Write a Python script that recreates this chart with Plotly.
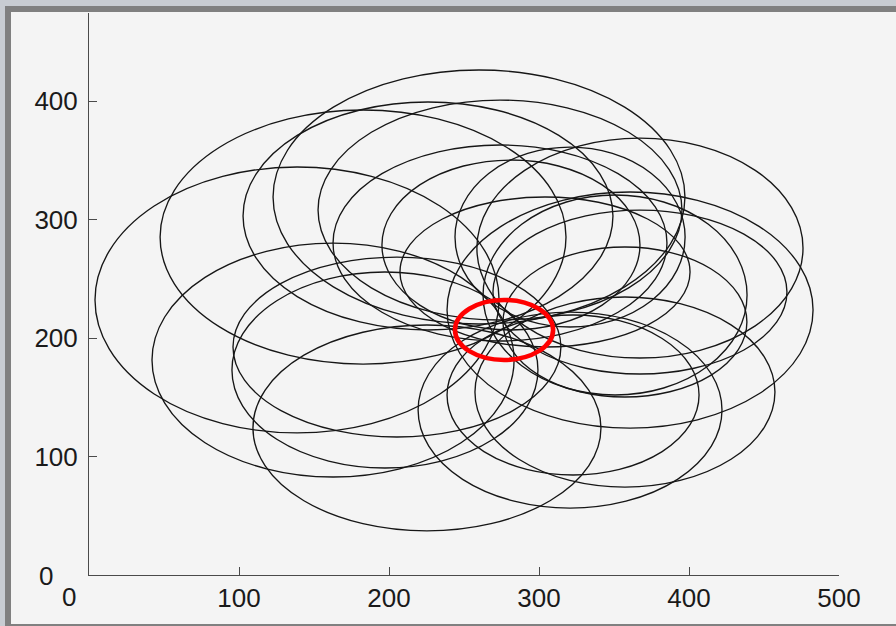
import plotly.graph_objects as go

# Ellipse data (data units): centers and semi-axes
center_x = [138.7, 182.7, 226.0, 260.0, 274.0, 274.0, 281.3, 304.0, 320.7, 367.3,
            360.7, 367.3, 350.7, 357.3, 322.7, 320.7, 225.3, 205.3, 197.3, 162.7, 357.3]
center_y = [232.1, 285.2, 303.0, 319.0, 308.0, 280.2, 278.5, 255.7, 285.2, 275.9,
            223.6, 238.8, 236.3, 154.4, 151.9, 139.2, 124.1, 192.4, 173.0, 181.4, 213.5]
radius_x = [134.7, 135.3, 123.3, 137.3, 121.3, 111.3, 86.0, 96.7, 76.7, 108.7,
            122.0, 98.0, 88.0, 100.0, 84.0, 101.3, 116.0, 109.3, 102.0, 120.7, 81.3]
radius_y = [112.2, 107.2, 96.2, 107.2, 92.8, 82.7, 71.7, 63.3, 75.9, 92.8,
            99.6, 69.2, 84.4, 80.2, 67.5, 82.7, 86.9, 75.9, 82.7, 98.7, 63.3]

# Highlighted common-point ellipse
red_center = (276.7, 206.8)
red_radius = (32.7, 25.3)

x_ticks = [100, 200, 300, 400, 500]
y_ticks = [100, 200, 300, 400]
x_range = [0, 500]
y_range = [0, 474.3]

FONT = "Liberation Sans, Arial, Helvetica, sans-serif"
TXT = "#1a1a1a"
AX = "#4a4a4a"

fig = go.Figure()
# invisible trace to establish axes
fig.add_trace(go.Scatter(x=x_range, y=y_range, mode="markers",
                         marker=dict(opacity=0), hoverinfo="skip", showlegend=False))

shapes = []
for cx, cy, rx, ry in zip(center_x, center_y, radius_x, radius_y):
    shapes.append(dict(type="circle", xref="x", yref="y",
                       x0=cx - rx, x1=cx + rx, y0=cy - ry, y1=cy + ry,
                       line=dict(color="#161616", width=1.35), layer="above"))
shapes.append(dict(type="circle", xref="x", yref="y",
                   x0=red_center[0] - red_radius[0], x1=red_center[0] + red_radius[0],
                   y0=red_center[1] - red_radius[1], y1=red_center[1] + red_radius[1],
                   line=dict(color="#ff0000", width=4.6), layer="above"))

# frame bands (paper coordinates; plot area 89..839 px wide, 13..575 px tall)
def px_x(p):
    return (p - 89) / 750.0

def px_y(p):
    return (575 - p) / 562.0

LIGHT = "#c8ccd2"
DARK = "#808080"
shapes += [
    dict(type="rect", xref="paper", yref="paper", x0=px_x(-2), x1=px_x(900),
         y0=px_y(6), y1=px_y(-2), fillcolor=LIGHT, line=dict(width=0)),
    dict(type="rect", xref="paper", yref="paper", x0=px_x(-2), x1=px_x(5),
         y0=px_y(630), y1=px_y(0), fillcolor=LIGHT, line=dict(width=0)),
    dict(type="rect", xref="paper", yref="paper", x0=px_x(5), x1=px_x(900),
         y0=px_y(12), y1=px_y(6), fillcolor=DARK, line=dict(width=0)),
    dict(type="rect", xref="paper", yref="paper", x0=px_x(5), x1=px_x(11),
         y0=px_y(630), y1=px_y(6), fillcolor=DARK, line=dict(width=0)),
    dict(type="rect", xref="paper", yref="paper", x0=px_x(5), x1=px_x(900),
         y0=px_y(630), y1=px_y(624), fillcolor=DARK, line=dict(width=0)),
]

fig.update_layout(
    width=896, height=626,
    margin=dict(l=89, r=57, t=13, b=51),
    paper_bgcolor="#f4f4f4", plot_bgcolor="#f4f4f4",
    showlegend=False,
    shapes=shapes,
    font=dict(family=FONT, size=26, color=TXT),
    xaxis=dict(range=x_range, tickvals=x_ticks, ticktext=[str(v) for v in x_ticks],
               showgrid=False, zeroline=False, showline=True, linecolor=AX, linewidth=1,
               ticks="inside", ticklen=8, tickcolor=AX, tickwidth=1,
               tickfont=dict(family=FONT, size=26, color=TXT), fixedrange=True),
    yaxis=dict(range=y_range, tickvals=y_ticks, ticktext=[str(v) for v in y_ticks],
               showgrid=False, zeroline=False, showline=True, linecolor=AX, linewidth=1,
               ticks="inside", ticklen=8, tickcolor=AX, tickwidth=1, ticklabelstandoff=5,
               tickfont=dict(family=FONT, size=26, color=TXT), fixedrange=True),
    annotations=[
        dict(text="0", xref="paper", yref="paper", x=px_x(46), y=px_y(576),
             xanchor="center", yanchor="middle", showarrow=False,
             font=dict(family=FONT, size=26, color=TXT)),
        dict(text="0", xref="paper", yref="paper", x=px_x(69), y=px_y(597),
             xanchor="center", yanchor="middle", showarrow=False,
             font=dict(family=FONT, size=26, color=TXT)),
    ],
)

fig.write_html(
    "out.html",
    config={"displayModeBar": False},
    post_script="document.body.style.margin='0';document.body.style.overflow='hidden';"
                "document.body.style.background='#f4f4f4';",
)
